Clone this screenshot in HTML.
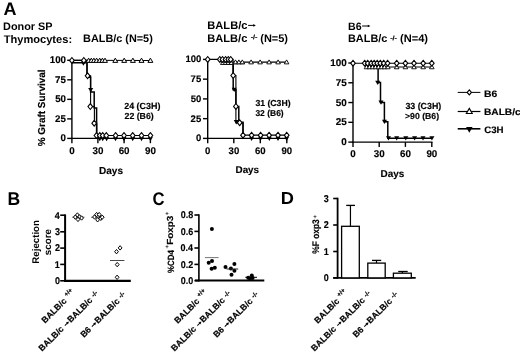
<!DOCTYPE html>
<html><head><meta charset="utf-8"><style>
html,body{margin:0;padding:0;background:#fff;width:520px;height:353px;overflow:hidden}
svg{display:block;will-change:transform}
text{font-family:'Liberation Sans',sans-serif;font-weight:bold;fill:#000;-webkit-font-smoothing:antialiased;text-rendering:geometricPrecision}
.s{stroke:#000;stroke-width:0.15px}
</style></head><body>
<svg width="520" height="353" viewBox="0 0 520 353">
<rect width="520" height="353" fill="#fff"/>
<text x="3.55" y="14.55" font-size="18.00" text-anchor="start" >A</text>
<text x="3.07" y="29.70" font-size="10.89" text-anchor="start" >Donor SP</text>
<text x="3.68" y="43.00" font-size="11.10" text-anchor="start" >Thymocytes:</text>
<text x="83.07" y="42.40" font-size="10.87" text-anchor="start" >BALB/c (N=5)</text>
<text x="207.36" y="29.30" font-size="11.09" text-anchor="start" >BALB/c</text>
<line x1="248.10" y1="25.40" x2="254.40" y2="25.40" stroke="#000" stroke-width="1.0"/>
<path d="M253.30,24.10 L255.90,25.40 L253.30,26.70Z" fill="#000"/>
<text x="207.36" y="42.00" font-size="11.07" text-anchor="start" >BALB/c</text>
<text class="s" font-size="6.00"  transform="translate(250.90,39.30) scale(1.195,1)" x="-0.23" y="0">-/-</text>
<text x="260.25" y="42.00" font-size="10.99" text-anchor="start" >(N=5)</text>
<text x="347.99" y="29.60" font-size="10.64" text-anchor="start" >B6</text>
<line x1="362.10" y1="26.00" x2="368.90" y2="26.00" stroke="#000" stroke-width="1.0"/>
<path d="M367.80,24.70 L370.40,26.00 L367.80,27.30Z" fill="#000"/>
<text x="347.97" y="42.30" font-size="10.92" text-anchor="start" >BALB/c</text>
<text class="s" font-size="6.00"  transform="translate(390.40,39.50) scale(1.214,1)" x="-0.23" y="0">-/-</text>
<text x="400.05" y="42.30" font-size="11.08" text-anchor="start" >(N=4)</text>
<line x1="71.90" y1="59.60" x2="71.90" y2="139.10" stroke="#000" stroke-width="1.4"/>
<line x1="71.20" y1="138.40" x2="151.10" y2="138.40" stroke="#000" stroke-width="1.4"/>
<line x1="67.20" y1="60.30" x2="71.90" y2="60.30" stroke="#000" stroke-width="1.4"/>
<text class="s" x="49.81" y="63.30" font-size="9.70" text-anchor="start" >100</text>
<line x1="67.20" y1="79.82" x2="71.90" y2="79.82" stroke="#000" stroke-width="1.4"/>
<text class="s" x="55.08" y="82.82" font-size="9.70" text-anchor="start" >75</text>
<line x1="67.20" y1="99.35" x2="71.90" y2="99.35" stroke="#000" stroke-width="1.4"/>
<text class="s" x="55.21" y="102.35" font-size="9.70" text-anchor="start" >50</text>
<line x1="67.20" y1="118.88" x2="71.90" y2="118.88" stroke="#000" stroke-width="1.4"/>
<text class="s" x="55.08" y="121.88" font-size="9.70" text-anchor="start" >25</text>
<line x1="67.20" y1="138.40" x2="71.90" y2="138.40" stroke="#000" stroke-width="1.4"/>
<text class="s" x="60.60" y="141.40" font-size="9.70" text-anchor="start" >0</text>
<line x1="71.90" y1="138.40" x2="71.90" y2="143.20" stroke="#000" stroke-width="1.4"/>
<text class="s" x="69.18" y="154.20" font-size="9.80" text-anchor="start" >0</text>
<line x1="97.90" y1="138.40" x2="97.90" y2="143.20" stroke="#000" stroke-width="1.4"/>
<text class="s" x="92.54" y="154.20" font-size="9.80" text-anchor="start" >30</text>
<line x1="124.10" y1="138.40" x2="124.10" y2="143.20" stroke="#000" stroke-width="1.4"/>
<text class="s" x="118.67" y="154.20" font-size="9.80" text-anchor="start" >60</text>
<line x1="150.40" y1="138.40" x2="150.40" y2="143.20" stroke="#000" stroke-width="1.4"/>
<text class="s" x="144.98" y="154.20" font-size="9.80" text-anchor="start" >90</text>
<text class="s" x="99.03" y="173.80" font-size="10.03" text-anchor="start" >Days</text>
<text class="s" font-size="10.1"  transform="translate(45.40,146.00) rotate(-90) scale(0.985,1)" x="-0.25" y="0">% Graft Survival</text>
<line x1="71.90" y1="60.20" x2="150.40" y2="60.50" stroke="#000" stroke-width="1.1"/>
<path d="M71.90,62.70 L87.00,62.70 L87.00,77.20 L90.60,77.20 L90.60,91.90 L94.20,91.90 L94.20,108.00 L96.60,108.00 L96.60,138.40" fill="none" stroke="#000" stroke-width="1.5" stroke-linejoin="miter" stroke-linecap="butt"/>
<path d="M71.90,60.40 L87.00,60.40 L87.00,75.90 L90.60,75.90 L90.60,106.60 L94.40,106.60 L94.40,123.20 L96.80,123.20 L96.80,135.50 L150.40,135.50" fill="none" stroke="#000" stroke-width="1.1" stroke-linejoin="miter" stroke-linecap="butt"/>
<path d="M88.60,58.15 L91.07,62.38 L86.13,62.38Z" fill="#fff" stroke="#000" stroke-width="1.0"/>
<path d="M91.30,58.15 L93.77,62.38 L88.83,62.38Z" fill="#fff" stroke="#000" stroke-width="1.0"/>
<path d="M93.90,58.15 L96.37,62.38 L91.43,62.38Z" fill="#fff" stroke="#000" stroke-width="1.0"/>
<path d="M96.60,58.15 L99.07,62.38 L94.13,62.38Z" fill="#fff" stroke="#000" stroke-width="1.0"/>
<path d="M99.70,58.15 L102.17,62.38 L97.23,62.38Z" fill="#fff" stroke="#000" stroke-width="1.0"/>
<path d="M102.40,58.15 L104.87,62.38 L99.93,62.38Z" fill="#fff" stroke="#000" stroke-width="1.0"/>
<path d="M105.00,58.15 L107.47,62.38 L102.53,62.38Z" fill="#fff" stroke="#000" stroke-width="1.0"/>
<path d="M115.30,58.15 L117.77,62.38 L112.83,62.38Z" fill="#fff" stroke="#000" stroke-width="1.0"/>
<path d="M124.20,58.15 L126.67,62.38 L121.73,62.38Z" fill="#fff" stroke="#000" stroke-width="1.0"/>
<path d="M132.90,58.15 L135.37,62.38 L130.43,62.38Z" fill="#fff" stroke="#000" stroke-width="1.0"/>
<path d="M141.50,58.15 L143.97,62.38 L139.03,62.38Z" fill="#fff" stroke="#000" stroke-width="1.0"/>
<path d="M150.40,58.15 L152.87,62.38 L147.93,62.38Z" fill="#fff" stroke="#000" stroke-width="1.0"/>
<path d="M90.70,92.20 L93.22,87.88 L88.18,87.88Z" fill="#000"/>
<path d="M83.40,65.80 L85.92,61.48 L80.88,61.48Z" fill="#000"/>
<path d="M71.90,57.50 L74.25,60.40 L71.90,63.30 L69.55,60.40Z" fill="#fff" stroke="#000" stroke-width="1.1"/>
<path d="M83.80,57.50 L86.15,60.40 L83.80,63.30 L81.45,60.40Z" fill="#fff" stroke="#000" stroke-width="1.1"/>
<path d="M87.60,72.90 L89.95,75.80 L87.60,78.70 L85.25,75.80Z" fill="#fff" stroke="#000" stroke-width="1.1"/>
<path d="M90.30,103.70 L92.65,106.60 L90.30,109.50 L87.95,106.60Z" fill="#fff" stroke="#000" stroke-width="1.1"/>
<path d="M94.20,120.30 L96.55,123.20 L94.20,126.10 L91.85,123.20Z" fill="#fff" stroke="#000" stroke-width="1.1"/>
<path d="M99.80,141.20 L102.22,137.06 L97.38,137.06Z" fill="#000"/>
<path d="M102.70,141.20 L105.12,137.06 L100.28,137.06Z" fill="#000"/>
<path d="M106.60,141.20 L109.02,137.06 L104.18,137.06Z" fill="#000"/>
<path d="M115.50,141.20 L117.92,137.06 L113.08,137.06Z" fill="#000"/>
<path d="M124.00,141.20 L126.42,137.06 L121.58,137.06Z" fill="#000"/>
<path d="M132.70,141.20 L135.11,137.06 L130.28,137.06Z" fill="#000"/>
<path d="M141.50,141.20 L143.91,137.06 L139.09,137.06Z" fill="#000"/>
<path d="M150.40,141.20 L152.81,137.06 L147.99,137.06Z" fill="#000"/>
<path d="M96.50,132.60 L98.85,135.50 L96.50,138.40 L94.15,135.50Z" fill="#fff" stroke="#000" stroke-width="1.1"/>
<path d="M99.80,132.60 L102.15,135.50 L99.80,138.40 L97.45,135.50Z" fill="#fff" stroke="#000" stroke-width="1.1"/>
<path d="M102.70,132.60 L105.05,135.50 L102.70,138.40 L100.35,135.50Z" fill="#fff" stroke="#000" stroke-width="1.1"/>
<path d="M106.30,132.60 L108.65,135.50 L106.30,138.40 L103.95,135.50Z" fill="#fff" stroke="#000" stroke-width="1.1"/>
<path d="M115.60,132.60 L117.95,135.50 L115.60,138.40 L113.25,135.50Z" fill="#fff" stroke="#000" stroke-width="1.1"/>
<path d="M124.00,132.60 L126.35,135.50 L124.00,138.40 L121.65,135.50Z" fill="#fff" stroke="#000" stroke-width="1.1"/>
<path d="M132.70,132.60 L135.05,135.50 L132.70,138.40 L130.35,135.50Z" fill="#fff" stroke="#000" stroke-width="1.1"/>
<path d="M141.50,132.60 L143.85,135.50 L141.50,138.40 L139.15,135.50Z" fill="#fff" stroke="#000" stroke-width="1.1"/>
<path d="M150.40,132.60 L152.75,135.50 L150.40,138.40 L148.05,135.50Z" fill="#fff" stroke="#000" stroke-width="1.1"/>
<text class="s" x="124.19" y="108.50" font-size="8.94" text-anchor="start" >24 (C3H)</text>
<text class="s" x="124.50" y="119.00" font-size="8.77" text-anchor="start" >22 (B6)</text>
<line x1="207.70" y1="58.70" x2="207.70" y2="139.10" stroke="#000" stroke-width="1.4"/>
<line x1="207.00" y1="138.40" x2="287.50" y2="138.40" stroke="#000" stroke-width="1.4"/>
<line x1="203.00" y1="59.40" x2="207.70" y2="59.40" stroke="#000" stroke-width="1.4"/>
<text class="s" x="185.44" y="62.40" font-size="9.50" text-anchor="start" >100</text>
<line x1="203.00" y1="79.15" x2="207.70" y2="79.15" stroke="#000" stroke-width="1.4"/>
<text class="s" x="190.60" y="82.15" font-size="9.50" text-anchor="start" >75</text>
<line x1="203.00" y1="98.90" x2="207.70" y2="98.90" stroke="#000" stroke-width="1.4"/>
<text class="s" x="190.72" y="101.90" font-size="9.50" text-anchor="start" >50</text>
<line x1="203.00" y1="118.65" x2="207.70" y2="118.65" stroke="#000" stroke-width="1.4"/>
<text class="s" x="190.60" y="121.65" font-size="9.50" text-anchor="start" >25</text>
<line x1="203.00" y1="138.40" x2="207.70" y2="138.40" stroke="#000" stroke-width="1.4"/>
<text class="s" x="196.01" y="141.40" font-size="9.50" text-anchor="start" >0</text>
<line x1="207.70" y1="138.40" x2="207.70" y2="143.20" stroke="#000" stroke-width="1.4"/>
<text class="s" x="205.04" y="153.80" font-size="9.60" text-anchor="start" >0</text>
<line x1="233.80" y1="138.40" x2="233.80" y2="143.20" stroke="#000" stroke-width="1.4"/>
<text class="s" x="228.55" y="153.80" font-size="9.60" text-anchor="start" >30</text>
<line x1="260.30" y1="138.40" x2="260.30" y2="143.20" stroke="#000" stroke-width="1.4"/>
<text class="s" x="254.98" y="153.80" font-size="9.60" text-anchor="start" >60</text>
<line x1="286.80" y1="138.40" x2="286.80" y2="143.20" stroke="#000" stroke-width="1.4"/>
<text class="s" x="281.49" y="153.80" font-size="9.60" text-anchor="start" >90</text>
<text class="s" x="235.54" y="172.70" font-size="9.86" text-anchor="start" >Days</text>
<line x1="233.00" y1="62.10" x2="286.80" y2="62.10" stroke="#000" stroke-width="1.2"/>
<line x1="221.40" y1="63.50" x2="244.70" y2="63.50" stroke="#000" stroke-width="1.3"/>
<path d="M221.40,63.60 L233.20,63.60 L233.20,89.70 L235.90,89.70 L235.90,106.40 L238.80,106.40 L238.80,122.30 L243.00,122.30 L243.00,138.40" fill="none" stroke="#000" stroke-width="1.5" stroke-linejoin="miter" stroke-linecap="butt"/>
<path d="M207.70,59.40 L233.00,59.40 L233.00,75.50 L235.90,75.50 L235.90,122.70 L243.00,122.70 L243.00,135.10 L286.80,135.10" fill="none" stroke="#000" stroke-width="1.1" stroke-linejoin="miter" stroke-linecap="butt"/>
<path d="M222.70,60.70 L224.91,64.48 L220.49,64.48Z" fill="#fff" stroke="#000" stroke-width="0.9"/>
<path d="M225.50,60.70 L227.71,64.48 L223.29,64.48Z" fill="#fff" stroke="#000" stroke-width="0.9"/>
<path d="M228.30,60.70 L230.51,64.48 L226.09,64.48Z" fill="#fff" stroke="#000" stroke-width="0.9"/>
<path d="M231.20,60.70 L233.41,64.48 L228.99,64.48Z" fill="#fff" stroke="#000" stroke-width="0.9"/>
<path d="M235.50,59.90 L237.81,63.86 L233.19,63.86Z" fill="#fff" stroke="#000" stroke-width="0.9"/>
<path d="M238.90,59.90 L241.21,63.86 L236.59,63.86Z" fill="#fff" stroke="#000" stroke-width="0.9"/>
<path d="M242.30,59.90 L244.61,63.86 L239.99,63.86Z" fill="#fff" stroke="#000" stroke-width="0.9"/>
<path d="M251.10,59.90 L253.41,63.86 L248.79,63.86Z" fill="#fff" stroke="#000" stroke-width="0.9"/>
<path d="M260.10,59.90 L262.41,63.86 L257.79,63.86Z" fill="#fff" stroke="#000" stroke-width="0.9"/>
<path d="M269.10,59.90 L271.41,63.86 L266.79,63.86Z" fill="#fff" stroke="#000" stroke-width="0.9"/>
<path d="M278.10,59.90 L280.41,63.86 L275.79,63.86Z" fill="#fff" stroke="#000" stroke-width="0.9"/>
<path d="M286.60,59.90 L288.91,63.86 L284.29,63.86Z" fill="#fff" stroke="#000" stroke-width="0.9"/>
<path d="M207.70,56.50 L210.05,59.40 L207.70,62.30 L205.35,59.40Z" fill="#fff" stroke="#000" stroke-width="1.1"/>
<path d="M219.80,56.50 L222.15,59.40 L219.80,62.30 L217.45,59.40Z" fill="#fff" stroke="#000" stroke-width="1.1"/>
<path d="M222.50,56.50 L224.85,59.40 L222.50,62.30 L220.15,59.40Z" fill="#fff" stroke="#000" stroke-width="1.1"/>
<path d="M225.60,56.50 L227.95,59.40 L225.60,62.30 L223.25,59.40Z" fill="#fff" stroke="#000" stroke-width="1.1"/>
<path d="M228.30,56.50 L230.65,59.40 L228.30,62.30 L225.95,59.40Z" fill="#fff" stroke="#000" stroke-width="1.1"/>
<path d="M230.70,56.50 L233.05,59.40 L230.70,62.30 L228.35,59.40Z" fill="#fff" stroke="#000" stroke-width="1.1"/>
<path d="M234.20,92.10 L236.72,87.78 L231.68,87.78Z" fill="#000"/>
<path d="M236.30,124.40 L238.82,120.08 L233.78,120.08Z" fill="#000"/>
<path d="M233.20,72.60 L235.55,75.50 L233.20,78.40 L230.85,75.50Z" fill="#fff" stroke="#000" stroke-width="1.1"/>
<path d="M235.90,103.50 L238.25,106.40 L235.90,109.30 L233.55,106.40Z" fill="#fff" stroke="#000" stroke-width="1.1"/>
<path d="M239.70,119.80 L242.05,122.70 L239.70,125.60 L237.35,122.70Z" fill="#fff" stroke="#000" stroke-width="1.1"/>
<path d="M251.60,141.00 L254.01,136.86 L249.19,136.86Z" fill="#000"/>
<path d="M260.50,141.00 L262.92,136.86 L258.08,136.86Z" fill="#000"/>
<path d="M269.30,141.00 L271.72,136.86 L266.88,136.86Z" fill="#000"/>
<path d="M278.00,141.00 L280.42,136.86 L275.58,136.86Z" fill="#000"/>
<path d="M286.70,141.00 L289.12,136.86 L284.28,136.86Z" fill="#000"/>
<path d="M243.00,132.30 L245.35,135.20 L243.00,138.10 L240.65,135.20Z" fill="#fff" stroke="#000" stroke-width="1.1"/>
<path d="M251.60,132.30 L253.95,135.20 L251.60,138.10 L249.25,135.20Z" fill="#fff" stroke="#000" stroke-width="1.1"/>
<path d="M260.60,132.30 L262.95,135.20 L260.60,138.10 L258.25,135.20Z" fill="#fff" stroke="#000" stroke-width="1.1"/>
<path d="M269.10,132.30 L271.45,135.20 L269.10,138.10 L266.75,135.20Z" fill="#fff" stroke="#000" stroke-width="1.1"/>
<path d="M278.00,132.30 L280.35,135.20 L278.00,138.10 L275.65,135.20Z" fill="#fff" stroke="#000" stroke-width="1.1"/>
<path d="M286.70,132.30 L289.05,135.20 L286.70,138.10 L284.35,135.20Z" fill="#fff" stroke="#000" stroke-width="1.1"/>
<text class="s" x="255.40" y="105.80" font-size="8.68" text-anchor="start" >31 (C3H)</text>
<text class="s" x="255.41" y="116.20" font-size="8.49" text-anchor="start" >32 (B6)</text>
<line x1="353.00" y1="62.30" x2="353.00" y2="142.80" stroke="#000" stroke-width="1.4"/>
<line x1="352.30" y1="142.10" x2="432.50" y2="142.10" stroke="#000" stroke-width="1.4"/>
<line x1="348.30" y1="63.00" x2="353.00" y2="63.00" stroke="#000" stroke-width="1.4"/>
<text class="s" x="330.29" y="66.00" font-size="9.90" text-anchor="start" >100</text>
<line x1="348.30" y1="82.78" x2="353.00" y2="82.78" stroke="#000" stroke-width="1.4"/>
<text class="s" x="335.66" y="85.78" font-size="9.90" text-anchor="start" >75</text>
<line x1="348.30" y1="102.55" x2="353.00" y2="102.55" stroke="#000" stroke-width="1.4"/>
<text class="s" x="335.79" y="105.55" font-size="9.90" text-anchor="start" >50</text>
<line x1="348.30" y1="122.32" x2="353.00" y2="122.32" stroke="#000" stroke-width="1.4"/>
<text class="s" x="335.66" y="125.32" font-size="9.90" text-anchor="start" >25</text>
<line x1="348.30" y1="142.10" x2="353.00" y2="142.10" stroke="#000" stroke-width="1.4"/>
<text class="s" x="341.30" y="145.10" font-size="9.90" text-anchor="start" >0</text>
<line x1="353.00" y1="142.10" x2="353.00" y2="146.90" stroke="#000" stroke-width="1.4"/>
<text class="s" x="350.28" y="157.00" font-size="9.80" text-anchor="start" >0</text>
<line x1="379.20" y1="142.10" x2="379.20" y2="146.90" stroke="#000" stroke-width="1.4"/>
<text class="s" x="373.84" y="157.00" font-size="9.80" text-anchor="start" >30</text>
<line x1="405.40" y1="142.10" x2="405.40" y2="146.90" stroke="#000" stroke-width="1.4"/>
<text class="s" x="399.97" y="157.00" font-size="9.80" text-anchor="start" >60</text>
<line x1="431.80" y1="142.10" x2="431.80" y2="146.90" stroke="#000" stroke-width="1.4"/>
<text class="s" x="426.38" y="157.00" font-size="9.80" text-anchor="start" >90</text>
<text class="s" x="380.53" y="177.40" font-size="9.94" text-anchor="start" >Days</text>
<line x1="365.00" y1="67.00" x2="431.80" y2="67.00" stroke="#000" stroke-width="1.0"/>
<line x1="353.00" y1="63.20" x2="432.00" y2="63.20" stroke="#000" stroke-width="1.1"/>
<path d="M365.00,66.60 L378.10,66.60 L378.10,82.60 L380.50,82.60 L380.50,102.40 L384.40,102.40 L384.40,121.70 L387.80,121.70 L387.80,138.30 L432.00,138.30" fill="none" stroke="#000" stroke-width="1.5" stroke-linejoin="miter" stroke-linecap="butt"/>
<path d="M366.50,64.80 L368.81,68.76 L364.19,68.76Z" fill="#fff" stroke="#000" stroke-width="0.9"/>
<path d="M369.50,64.80 L371.81,68.76 L367.19,68.76Z" fill="#fff" stroke="#000" stroke-width="0.9"/>
<path d="M372.50,64.80 L374.81,68.76 L370.19,68.76Z" fill="#fff" stroke="#000" stroke-width="0.9"/>
<path d="M375.50,64.80 L377.81,68.76 L373.19,68.76Z" fill="#fff" stroke="#000" stroke-width="0.9"/>
<path d="M378.50,64.80 L380.81,68.76 L376.19,68.76Z" fill="#fff" stroke="#000" stroke-width="0.9"/>
<path d="M381.50,64.80 L383.81,68.76 L379.19,68.76Z" fill="#fff" stroke="#000" stroke-width="0.9"/>
<path d="M384.50,64.80 L386.81,68.76 L382.19,68.76Z" fill="#fff" stroke="#000" stroke-width="0.9"/>
<path d="M387.80,64.80 L390.11,68.76 L385.49,68.76Z" fill="#fff" stroke="#000" stroke-width="0.9"/>
<path d="M396.70,64.80 L399.01,68.76 L394.39,68.76Z" fill="#fff" stroke="#000" stroke-width="0.9"/>
<path d="M405.40,64.80 L407.71,68.76 L403.09,68.76Z" fill="#fff" stroke="#000" stroke-width="0.9"/>
<path d="M414.00,64.80 L416.31,68.76 L411.69,68.76Z" fill="#fff" stroke="#000" stroke-width="0.9"/>
<path d="M423.20,64.80 L425.51,68.76 L420.89,68.76Z" fill="#fff" stroke="#000" stroke-width="0.9"/>
<path d="M431.80,64.80 L434.11,68.76 L429.49,68.76Z" fill="#fff" stroke="#000" stroke-width="0.9"/>
<path d="M353.00,60.30 L355.35,63.20 L353.00,66.10 L350.65,63.20Z" fill="#fff" stroke="#000" stroke-width="1.1"/>
<path d="M364.70,60.30 L367.05,63.20 L364.70,66.10 L362.35,63.20Z" fill="#fff" stroke="#000" stroke-width="1.1"/>
<path d="M367.70,60.30 L370.05,63.20 L367.70,66.10 L365.35,63.20Z" fill="#fff" stroke="#000" stroke-width="1.1"/>
<path d="M371.20,60.30 L373.55,63.20 L371.20,66.10 L368.85,63.20Z" fill="#fff" stroke="#000" stroke-width="1.1"/>
<path d="M374.20,60.30 L376.55,63.20 L374.20,66.10 L371.85,63.20Z" fill="#fff" stroke="#000" stroke-width="1.1"/>
<path d="M377.20,60.30 L379.55,63.20 L377.20,66.10 L374.85,63.20Z" fill="#fff" stroke="#000" stroke-width="1.1"/>
<path d="M380.30,60.30 L382.65,63.20 L380.30,66.10 L377.95,63.20Z" fill="#fff" stroke="#000" stroke-width="1.1"/>
<path d="M383.70,60.30 L386.05,63.20 L383.70,66.10 L381.35,63.20Z" fill="#fff" stroke="#000" stroke-width="1.1"/>
<path d="M387.60,60.30 L389.95,63.20 L387.60,66.10 L385.25,63.20Z" fill="#fff" stroke="#000" stroke-width="1.1"/>
<path d="M396.70,60.30 L399.05,63.20 L396.70,66.10 L394.35,63.20Z" fill="#fff" stroke="#000" stroke-width="1.1"/>
<path d="M405.40,60.30 L407.75,63.20 L405.40,66.10 L403.05,63.20Z" fill="#fff" stroke="#000" stroke-width="1.1"/>
<path d="M414.00,60.30 L416.35,63.20 L414.00,66.10 L411.65,63.20Z" fill="#fff" stroke="#000" stroke-width="1.1"/>
<path d="M423.20,60.30 L425.55,63.20 L423.20,66.10 L420.85,63.20Z" fill="#fff" stroke="#000" stroke-width="1.1"/>
<path d="M431.80,60.30 L434.15,63.20 L431.80,66.10 L429.45,63.20Z" fill="#fff" stroke="#000" stroke-width="1.1"/>
<path d="M377.70,85.00 L380.22,80.68 L375.18,80.68Z" fill="#000"/>
<path d="M381.00,104.80 L383.52,100.48 L378.48,100.48Z" fill="#000"/>
<path d="M384.50,124.10 L387.02,119.78 L381.98,119.78Z" fill="#000"/>
<path d="M388.50,140.50 L391.02,136.18 L385.98,136.18Z" fill="#000"/>
<path d="M396.70,140.50 L399.22,136.18 L394.18,136.18Z" fill="#000"/>
<path d="M405.80,140.50 L408.32,136.18 L403.28,136.18Z" fill="#000"/>
<path d="M414.60,140.50 L417.12,136.18 L412.08,136.18Z" fill="#000"/>
<path d="M423.00,140.50 L425.52,136.18 L420.48,136.18Z" fill="#000"/>
<path d="M431.90,140.50 L434.42,136.18 L429.38,136.18Z" fill="#000"/>
<text class="s" x="405.40" y="108.60" font-size="8.84" text-anchor="start" >33 (C3H)</text>
<text class="s" x="405.03" y="118.90" font-size="8.70" text-anchor="start" >&gt;90 (B6)</text>
<line x1="457.70" y1="92.40" x2="480.40" y2="92.40" stroke="#000" stroke-width="1.0"/>
<path d="M469.30,89.90 L471.43,92.40 L469.30,94.90 L467.18,92.40Z" fill="#fff" stroke="#000" stroke-width="1.1"/>
<text class="s" font-size="9.40"  transform="translate(484.60,96.80) scale(1.104,1)" x="-0.63" y="0">B6</text>
<line x1="457.70" y1="111.50" x2="480.40" y2="111.50" stroke="#000" stroke-width="1.2"/>
<path d="M469.30,108.40 L472.24,113.44 L466.36,113.44Z" fill="#fff" stroke="#000" stroke-width="1.1"/>
<text class="s" font-size="9.40"  transform="translate(484.60,115.00) scale(1.086,1)" x="-0.63" y="0">BALB/c</text>
<line x1="457.70" y1="128.80" x2="480.40" y2="128.80" stroke="#000" stroke-width="1.6"/>
<path d="M469.30,132.70 L472.56,127.12 L466.05,127.12Z" fill="#000"/>
<text class="s" font-size="9.40"  transform="translate(484.60,132.90) scale(1.035,1)" x="-0.39" y="0">C3H</text>
<text font-size="18.40"  transform="translate(8.60,205.00) scale(0.954,1)" x="-1.23" y="0">B</text>
<line x1="65.10" y1="214.40" x2="65.10" y2="281.60" stroke="#000" stroke-width="2.0"/>
<line x1="64.10" y1="280.80" x2="130.80" y2="280.80" stroke="#000" stroke-width="2.2"/>
<line x1="60.20" y1="280.80" x2="65.10" y2="280.80" stroke="#000" stroke-width="1.6"/>
<text class="s" font-size="9.90"  transform="translate(59.60,284.10) scale(0.910,1)" x="-5.10" y="0">0</text>
<line x1="60.20" y1="264.40" x2="65.10" y2="264.40" stroke="#000" stroke-width="1.6"/>
<text class="s" font-size="9.90"  transform="translate(59.60,267.70) scale(0.910,1)" x="-5.23" y="0">1</text>
<line x1="60.20" y1="248.10" x2="65.10" y2="248.10" stroke="#000" stroke-width="1.6"/>
<text class="s" font-size="9.90"  transform="translate(59.60,251.40) scale(0.910,1)" x="-5.11" y="0">2</text>
<line x1="60.20" y1="231.80" x2="65.10" y2="231.80" stroke="#000" stroke-width="1.6"/>
<text class="s" font-size="9.90"  transform="translate(59.60,235.10) scale(0.910,1)" x="-5.15" y="0">3</text>
<line x1="60.20" y1="215.20" x2="65.10" y2="215.20" stroke="#000" stroke-width="1.6"/>
<text class="s" font-size="9.90"  transform="translate(59.60,218.50) scale(0.910,1)" x="-5.45" y="0">4</text>
<text font-size="9.7" text-anchor="middle" transform="translate(39.2,241.85) rotate(-90)">Rejection</text>
<text font-size="9.8" text-anchor="middle" transform="translate(50.5,242.05) rotate(-90)">score</text>
<line x1="72.20" y1="217.20" x2="84.50" y2="217.20" stroke="#333" stroke-width="0.8"/>
<line x1="91.10" y1="217.30" x2="104.20" y2="217.30" stroke="#333" stroke-width="0.8"/>
<path d="M75.30,214.90 L77.17,217.10 L75.30,219.30 L73.43,217.10Z" fill="#fff" stroke="#000" stroke-width="1.0"/>
<path d="M77.40,212.80 L79.27,215.00 L77.40,217.20 L75.53,215.00Z" fill="#fff" stroke="#000" stroke-width="1.0"/>
<path d="M79.60,214.70 L81.47,216.90 L79.60,219.10 L77.73,216.90Z" fill="#fff" stroke="#000" stroke-width="1.0"/>
<path d="M78.00,217.20 L79.87,219.40 L78.00,221.60 L76.13,219.40Z" fill="#fff" stroke="#000" stroke-width="1.0"/>
<path d="M81.60,215.80 L83.47,218.00 L81.60,220.20 L79.73,218.00Z" fill="#fff" stroke="#000" stroke-width="1.0"/>
<path d="M94.50,214.80 L96.37,217.00 L94.50,219.20 L92.63,217.00Z" fill="#fff" stroke="#000" stroke-width="1.0"/>
<path d="M96.60,212.40 L98.47,214.60 L96.60,216.80 L94.73,214.60Z" fill="#fff" stroke="#000" stroke-width="1.0"/>
<path d="M99.20,212.40 L101.07,214.60 L99.20,216.80 L97.33,214.60Z" fill="#fff" stroke="#000" stroke-width="1.0"/>
<path d="M97.60,217.60 L99.47,219.80 L97.60,222.00 L95.73,219.80Z" fill="#fff" stroke="#000" stroke-width="1.0"/>
<path d="M100.80,216.10 L102.67,218.30 L100.80,220.50 L98.93,218.30Z" fill="#fff" stroke="#000" stroke-width="1.0"/>
<path d="M102.20,215.00 L104.07,217.20 L102.20,219.40 L100.33,217.20Z" fill="#fff" stroke="#000" stroke-width="1.0"/>
<line x1="110.00" y1="260.50" x2="124.40" y2="260.50" stroke="#333" stroke-width="0.9"/>
<path d="M116.50,249.50 L118.37,251.70 L116.50,253.90 L114.63,251.70Z" fill="#fff" stroke="#000" stroke-width="1.0"/>
<path d="M120.10,245.70 L121.97,247.90 L120.10,250.10 L118.23,247.90Z" fill="#fff" stroke="#000" stroke-width="1.0"/>
<path d="M117.20,262.40 L119.07,264.60 L117.20,266.80 L115.33,264.60Z" fill="#fff" stroke="#000" stroke-width="1.0"/>
<path d="M117.10,275.10 L118.97,277.30 L117.10,279.50 L115.23,277.30Z" fill="#fff" stroke="#000" stroke-width="1.0"/>
<g transform="translate(45.40,323.40) rotate(-45)" style="stroke:#000;stroke-width:0.2px">
<text x="-0.58" y="0.00" font-size="8.7" >BALB/c</text>
<text x="33.63" y="-3.90" font-size="6.1" >+/+</text>
</g>
<g transform="translate(42.50,351.40) rotate(-45)" style="stroke:#000;stroke-width:0.2px">
<text x="-0.58" y="0.00" font-size="8.7" >BALB/c</text>
<line x1="34.08" y1="-2.50" x2="38.38" y2="-2.50" stroke="#000" stroke-width="1.0"/>
<path d="M37.18,-3.75 L39.58,-2.50 L37.18,-1.25Z" fill="#000"/>
<text x="40.00" y="0.00" font-size="8.7" >BALB/c</text>
<text x="74.31" y="-1.80" font-size="6.5" >-/-</text>
</g>
<g transform="translate(84.30,337.70) rotate(-45)" style="stroke:#000;stroke-width:0.2px">
<text x="-0.58" y="0.00" font-size="8.7" >B6</text>
<line x1="13.23" y1="-2.50" x2="17.73" y2="-2.50" stroke="#000" stroke-width="1.0"/>
<path d="M16.53,-3.75 L18.93,-2.50 L16.53,-1.25Z" fill="#000"/>
<text x="19.34" y="0.00" font-size="8.7" >BALB/c</text>
<text x="53.65" y="-1.80" font-size="6.5" >-/-</text>
</g>
<text font-size="18.20"  transform="translate(153.10,205.00) scale(0.916,1)" x="-0.75" y="0">C</text>
<line x1="198.90" y1="214.20" x2="198.90" y2="281.40" stroke="#000" stroke-width="1.6"/>
<line x1="195.00" y1="280.60" x2="264.30" y2="280.60" stroke="#000" stroke-width="2.0"/>
<line x1="194.40" y1="280.60" x2="198.90" y2="280.60" stroke="#000" stroke-width="1.6"/>
<text class="s" font-size="9.90"  transform="translate(193.00,283.90) scale(0.910,1)" x="-13.36" y="0">0.0</text>
<line x1="194.40" y1="264.40" x2="198.90" y2="264.40" stroke="#000" stroke-width="1.6"/>
<text class="s" font-size="9.90"  transform="translate(193.00,267.70) scale(0.910,1)" x="-13.37" y="0">0.2</text>
<line x1="194.40" y1="248.00" x2="198.90" y2="248.00" stroke="#000" stroke-width="1.6"/>
<text class="s" font-size="9.90"  transform="translate(193.00,251.30) scale(0.910,1)" x="-13.71" y="0">0.4</text>
<line x1="194.40" y1="231.40" x2="198.90" y2="231.40" stroke="#000" stroke-width="1.6"/>
<text class="s" font-size="9.90"  transform="translate(193.00,234.70) scale(0.910,1)" x="-13.40" y="0">0.6</text>
<line x1="194.40" y1="215.00" x2="198.90" y2="215.00" stroke="#000" stroke-width="1.6"/>
<text class="s" font-size="9.90"  transform="translate(193.00,218.30) scale(0.910,1)" x="-13.46" y="0">0.8</text>
<text class="s" font-size="9.1"  transform="translate(173.50,272.80) rotate(-90) scale(0.869,1)" x="-0.23" y="0">%CD4</text>
<text font-size="6" transform="translate(168.7,248.5) rotate(-90)">+</text>
<text class="s" font-size="8.8"  transform="translate(173.40,244.10) rotate(-90) scale(1.120,1)" x="-0.59" y="0">Foxp3</text>
<text font-size="6" transform="translate(168.5,215.2) rotate(-90)">+</text>
<circle cx="211.90" cy="229.00" r="2.0" fill="#000"/>
<circle cx="208.70" cy="262.70" r="2.0" fill="#000"/>
<circle cx="212.00" cy="261.10" r="2.0" fill="#000"/>
<circle cx="211.60" cy="268.70" r="2.0" fill="#000"/>
<circle cx="214.80" cy="267.70" r="2.0" fill="#000"/>
<line x1="204.90" y1="257.60" x2="218.60" y2="257.60" stroke="#777" stroke-width="1.0"/>
<circle cx="225.50" cy="266.90" r="2.0" fill="#000"/>
<circle cx="230.90" cy="268.40" r="2.0" fill="#000"/>
<circle cx="234.40" cy="264.10" r="2.0" fill="#000"/>
<circle cx="234.40" cy="270.80" r="2.0" fill="#000"/>
<circle cx="231.50" cy="274.80" r="2.0" fill="#000"/>
<line x1="226.50" y1="269.00" x2="238.20" y2="269.00" stroke="#222" stroke-width="1.0"/>
<circle cx="248.20" cy="277.80" r="2.0" fill="#000"/>
<circle cx="251.80" cy="275.50" r="2.0" fill="#000"/>
<circle cx="252.60" cy="278.10" r="2.0" fill="#000"/>
<circle cx="250.00" cy="278.50" r="2.0" fill="#000"/>
<line x1="245.30" y1="277.30" x2="257.00" y2="277.30" stroke="#000" stroke-width="1.0"/>
<g transform="translate(178.20,323.70) rotate(-45)" style="stroke:#000;stroke-width:0.2px">
<text x="-0.58" y="0.00" font-size="8.7" >BALB/c</text>
<text x="33.63" y="-3.90" font-size="6.1" >+/+</text>
</g>
<g transform="translate(175.00,351.40) rotate(-45)" style="stroke:#000;stroke-width:0.2px">
<text x="-0.58" y="0.00" font-size="8.7" >BALB/c</text>
<line x1="34.08" y1="-2.50" x2="38.38" y2="-2.50" stroke="#000" stroke-width="1.0"/>
<path d="M37.18,-3.75 L39.58,-2.50 L37.18,-1.25Z" fill="#000"/>
<text x="40.00" y="0.00" font-size="8.7" >BALB/c</text>
<text x="74.31" y="-1.80" font-size="6.5" >-/-</text>
</g>
<g transform="translate(217.20,337.70) rotate(-45)" style="stroke:#000;stroke-width:0.2px">
<text x="-0.58" y="0.00" font-size="8.7" >B6</text>
<line x1="13.23" y1="-2.50" x2="17.73" y2="-2.50" stroke="#000" stroke-width="1.0"/>
<path d="M16.53,-3.75 L18.93,-2.50 L16.53,-1.25Z" fill="#000"/>
<text x="19.34" y="0.00" font-size="8.7" >BALB/c</text>
<text x="53.65" y="-1.80" font-size="6.5" >-/-</text>
</g>
<text font-size="17.30"  transform="translate(282.00,203.90) scale(1.056,1)" x="-1.16" y="0">D</text>
<line x1="337.60" y1="197.70" x2="337.60" y2="278.70" stroke="#000" stroke-width="1.8"/>
<line x1="333.20" y1="277.90" x2="415.70" y2="277.90" stroke="#000" stroke-width="1.8"/>
<line x1="333.20" y1="277.90" x2="337.60" y2="277.90" stroke="#000" stroke-width="1.6"/>
<text class="s" font-size="9.90"  transform="translate(328.40,281.20) scale(0.910,1)" x="-5.10" y="0">0</text>
<line x1="333.20" y1="251.50" x2="337.60" y2="251.50" stroke="#000" stroke-width="1.6"/>
<text class="s" font-size="9.90"  transform="translate(328.40,254.80) scale(0.910,1)" x="-5.23" y="0">1</text>
<line x1="333.20" y1="225.00" x2="337.60" y2="225.00" stroke="#000" stroke-width="1.6"/>
<text class="s" font-size="9.90"  transform="translate(328.40,228.30) scale(0.910,1)" x="-5.11" y="0">2</text>
<line x1="333.20" y1="198.50" x2="337.60" y2="198.50" stroke="#000" stroke-width="1.6"/>
<text class="s" font-size="9.90"  transform="translate(328.40,201.80) scale(0.910,1)" x="-5.15" y="0">3</text>
<text class="s" font-size="9.6"  transform="translate(318.80,253.60) rotate(-90) scale(0.877,1)" x="-0.24" y="0">%F oxp3</text>
<text font-size="6" transform="translate(316.6,218.4) rotate(-90)">+</text>
<line x1="350.45" y1="226.30" x2="350.45" y2="205.40" stroke="#000" stroke-width="1.2"/>
<line x1="346.20" y1="205.40" x2="355.00" y2="205.40" stroke="#000" stroke-width="1.3"/>
<rect x="341.60" y="226.30" width="17.70" height="51.60" fill="#fff" stroke="#000" stroke-width="1.3"/>
<line x1="376.50" y1="263.10" x2="376.50" y2="260.40" stroke="#000" stroke-width="1.2"/>
<line x1="372.00" y1="260.40" x2="381.20" y2="260.40" stroke="#000" stroke-width="1.3"/>
<rect x="367.80" y="263.10" width="17.40" height="14.80" fill="#fff" stroke="#000" stroke-width="1.3"/>
<line x1="402.35" y1="273.20" x2="402.35" y2="271.50" stroke="#000" stroke-width="1.2"/>
<line x1="398.20" y1="271.50" x2="407.70" y2="271.50" stroke="#000" stroke-width="1.3"/>
<rect x="393.40" y="273.20" width="17.90" height="4.70" fill="#fff" stroke="#000" stroke-width="1.3"/>
<g transform="translate(318.20,323.50) rotate(-45)" style="stroke:#000;stroke-width:0.2px">
<text x="-0.58" y="0.00" font-size="8.7" >BALB/c</text>
<text x="33.63" y="-3.90" font-size="6.1" >+/+</text>
</g>
<g transform="translate(315.00,351.40) rotate(-45)" style="stroke:#000;stroke-width:0.2px">
<text x="-0.58" y="0.00" font-size="8.7" >BALB/c</text>
<line x1="34.08" y1="-2.50" x2="38.38" y2="-2.50" stroke="#000" stroke-width="1.0"/>
<path d="M37.18,-3.75 L39.58,-2.50 L37.18,-1.25Z" fill="#000"/>
<text x="40.00" y="0.00" font-size="8.7" >BALB/c</text>
<text x="74.31" y="-1.80" font-size="6.5" >-/-</text>
</g>
<g transform="translate(356.70,337.70) rotate(-45)" style="stroke:#000;stroke-width:0.2px">
<text x="-0.58" y="0.00" font-size="8.7" >B6</text>
<line x1="13.23" y1="-2.50" x2="17.73" y2="-2.50" stroke="#000" stroke-width="1.0"/>
<path d="M16.53,-3.75 L18.93,-2.50 L16.53,-1.25Z" fill="#000"/>
<text x="19.34" y="0.00" font-size="8.7" >BALB/c</text>
<text x="53.65" y="-1.80" font-size="6.5" >-/-</text>
</g>
</svg>
</body></html>
